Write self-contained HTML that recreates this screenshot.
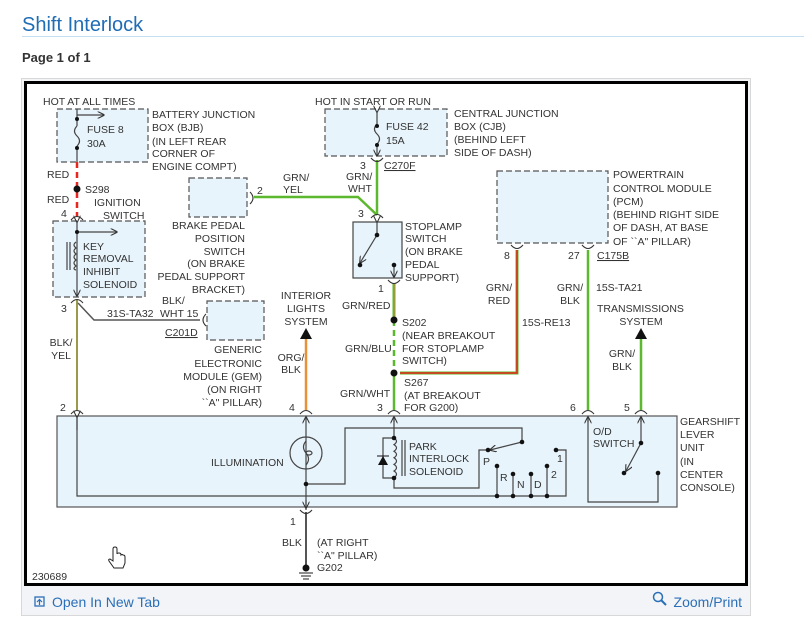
<!DOCTYPE html>
<html><head><meta charset="utf-8"><style>
html,body{margin:0;padding:0;background:#fff;}
body{width:804px;height:636px;overflow:hidden;position:relative;font-family:"Liberation Sans",sans-serif;}
svg{position:absolute;left:0;top:0;}
</style></head><body>
<svg width="804" height="636" viewBox="0 0 804 636" font-family="Liberation Sans, sans-serif">
<defs>
<marker id="ar" viewBox="0 0 10 10" refX="9" refY="5" markerWidth="6" markerHeight="6" orient="auto"><path d="M0,0 L10,5 L0,10" fill="none" stroke="#333" stroke-width="1.5"/></marker>
</defs>
<!-- header -->
<text x="22" y="31" font-size="20" fill="#1f6db5">Shift Interlock</text>
<line x1="22" y1="36.5" x2="804" y2="36.5" stroke="#c5dff2" stroke-width="1"/>
<text x="22" y="62" font-size="13" font-weight="bold" fill="#333">Page 1 of 1</text>
<rect x="21.5" y="78.5" width="729" height="537" fill="#f3f4f6" stroke="#d8d8d8"/>
<rect x="25.5" y="82.5" width="721" height="502" fill="#fff" stroke="#000" stroke-width="3"/>
<!-- bottom bar -->
<rect x="22" y="587" width="728" height="28" fill="#f2f4f7"/>
<rect x="35" y="597" width="9" height="9" fill="none" stroke="#2a6fb8" stroke-width="1.3"/>
<path d="M39.5 605 V600 M37 602 L39.5 599.5 L42 602" stroke="#2a6fb8" fill="none" stroke-width="1.2"/>
<text x="52" y="607" font-size="14" fill="#2a6fb8">Open In New Tab</text>
<circle cx="658" cy="597" r="4.5" fill="none" stroke="#2a6fb8" stroke-width="1.5"/>
<line x1="661" y1="600" x2="666" y2="605" stroke="#2a6fb8" stroke-width="2"/>
<text x="742" y="607" font-size="14" fill="#2a6fb8" text-anchor="end">Zoom/Print</text>

<g font-size="10.5" fill="#333">
<!-- boxes -->
<g fill="#e8f4fc" stroke="#555" stroke-width="1.2" stroke-dasharray="6,3">
<rect x="57" y="109" width="91" height="53"/>
<rect x="53" y="221" width="92" height="76"/>
<rect x="189" y="178" width="58" height="39"/>
<rect x="207" y="301" width="57" height="39"/>
<rect x="325" y="109" width="122" height="47"/>
<rect x="497" y="171" width="111" height="72"/>
</g>
<rect x="353" y="222" width="49" height="56" fill="#e8f4fc" stroke="#444" stroke-width="1.2"/>
<rect x="57" y="416" width="620" height="91" fill="#e8f4fc" stroke="#555" stroke-width="1.2"/>

<!-- wires -->
<g fill="none" stroke-width="2.5">
<line x1="77" y1="162" x2="77" y2="217" stroke="#e8261f" stroke-dasharray="6,4"/>
<line x1="77" y1="300" x2="77" y2="410" stroke="#9a9a4a" stroke-width="2"/>
<polyline points="78,303 94,320 200,320" stroke="#555" stroke-width="1.5"/>
<polyline points="254,197 358,197 377,215" stroke="#5cb82e"/>
<line x1="377" y1="160" x2="377" y2="215" stroke="#5cb82e"/>
<line x1="394" y1="283" x2="394" y2="320" stroke="#5cb82e" stroke-width="3"/>
<line x1="394" y1="283" x2="394" y2="320" stroke="#d08040" stroke-width="1"/>
<line x1="394" y1="320" x2="394" y2="373" stroke="#5cb82e" stroke-dasharray="6,4"/>
<line x1="394" y1="373" x2="394" y2="410" stroke="#5cb82e"/>
<polyline points="400,373 517,373 517,250" stroke="#5cb82e" stroke-width="3"/>
<polyline points="400,373 517,373 517,250" stroke="#e8261f" stroke-width="1.5"/>
<line x1="588" y1="250" x2="588" y2="410" stroke="#5cb82e"/>
<line x1="641" y1="338" x2="641" y2="410" stroke="#5cb82e"/>
<line x1="306" y1="338" x2="306" y2="410" stroke="#e8913a"/>
<line x1="306" y1="512" x2="306" y2="568" stroke="#555" stroke-width="2"/>
</g>
<!-- arrows up triangles -->
<path d="M306 328 L300 339 L312 339Z M641 328 L635 339 L647 339Z" fill="#111"/>

<!-- connector caps -->
<g fill="none" stroke="#333" stroke-width="1.1">
<path d="M71 220 Q77 213 83 220 M71 303 Q77 296 83 303 M71 414 Q77 407 83 414 M300 414 Q306 407 312 414 M388 414 Q394 407 400 414 M582 414 Q588 407 594 414 M635 414 Q641 407 647 414 M371 218 Q377 211 383 218 M388 280 Q394 287 400 280 M371 158 Q377 165 383 158 M511 245 Q517 252 523 245 M582 245 Q588 252 594 245 M300 510 Q306 517 312 510"/>
<path d="M250 192 Q256 198 250 204 M206 314 Q200 320 206 326"/>
</g>

<!-- BJB internals -->
<g stroke="#444" stroke-width="1.2" fill="none">
<line x1="77" y1="109" x2="77" y2="126"/>
<path d="M77 126 Q72 131 77 136 Q82 141 77 146"/>
<line x1="77" y1="146" x2="77" y2="162"/>
<line x1="77" y1="115" x2="104" y2="115" marker-end="url(#ar)"/>
<line x1="377" y1="112" x2="377" y2="124" marker-start="url(#ar)"/>
<path d="M377 124 Q372 129 377 134 Q382 139 377 144"/>
<line x1="377" y1="144" x2="377" y2="156" marker-end="url(#ar)"/>
<!-- ignition -->
<line x1="77" y1="222" x2="77" y2="296" marker-start="url(#ar)" marker-end="url(#ar)"/>
<line x1="77" y1="232" x2="117" y2="232" marker-end="url(#ar)"/>
<path d="M76 242 q-4 3 0 6 q-4 3 0 6 q-4 3 0 6 q-4 3 0 6 q-4 3 0 4"/>
<line x1="67" y1="242" x2="67" y2="270"/><line x1="70" y1="242" x2="70" y2="270"/>
<!-- stoplamp -->
<line x1="377" y1="222" x2="377" y2="235" marker-start="url(#ar)"/>
<line x1="377" y1="235" x2="360" y2="263" marker-end="url(#ar)"/>
<line x1="394" y1="265" x2="394" y2="277" marker-end="url(#ar)"/>
<!-- gearshift internals -->
<polyline points="77,418 77,496 566,496 566,450 556,450"/>
<line x1="77" y1="417" x2="77" y2="430" marker-start="url(#ar)"/>
<line x1="306" y1="417" x2="306" y2="510" />
<line x1="306" y1="420" x2="306" y2="417" marker-end="url(#ar)"/>
<line x1="306" y1="500" x2="306" y2="508" marker-end="url(#ar)"/>
<circle cx="306" cy="453" r="16"/>
<path d="M306 441 q-5 6 0 12 q5 6 0 12"/>
<ellipse cx="309" cy="453" rx="3" ry="2"/>
<polyline points="306,484 345,484 345,428 522,428 522,442"/>
<line x1="522" y1="442" x2="490" y2="450" marker-end="url(#ar)"/>
<line x1="394" y1="418" x2="394" y2="438"/>
<line x1="394" y1="422" x2="394" y2="417" marker-end="url(#ar)"/>
<path d="M394 438 q5 3.3 0 6.6 q5 3.3 0 6.6 q5 3.3 0 6.6 q5 3.3 0 6.6 q5 3.3 0 6.6 q5 3.3 0 6.6"/>
<line x1="402" y1="440" x2="402" y2="476"/><line x1="405" y1="440" x2="405" y2="476"/>
<polyline points="394,438 383,438 383,478 394,478"/>
<polyline points="394,478 394,488 479,488 479,450 488,450"/>
<line x1="497" y1="466" x2="497" y2="496"/><line x1="513" y1="474" x2="513" y2="496"/>
<line x1="531" y1="474" x2="531" y2="496"/><line x1="547" y1="466" x2="547" y2="496"/>
<polyline points="588,418 588,502 658,502 658,473"/>
<line x1="588" y1="422" x2="588" y2="417" marker-end="url(#ar)"/>
<line x1="641" y1="417" x2="641" y2="443"/>
<line x1="641" y1="422" x2="641" y2="417" marker-end="url(#ar)"/>
<line x1="641" y1="443" x2="626" y2="471" marker-end="url(#ar)"/>
</g>
<path d="M378 465 L388 465 L383 456Z" fill="#111"/><line x1="377" y1="456" x2="389" y2="456" stroke="#111"/>
<!-- ground -->
<g stroke="#444" stroke-width="1.2"><line x1="299" y1="573" x2="313" y2="573"/><line x1="301" y1="576" x2="311" y2="576"/><line x1="303" y1="579" x2="309" y2="579"/></g>
<!-- dots -->
<g fill="#111">
<circle cx="77" cy="189" r="3.5"/><circle cx="394" cy="320" r="3.5"/><circle cx="394" cy="373" r="3.5"/>
<circle cx="306" cy="568" r="3.5"/>
<circle cx="77" cy="119" r="2"/><circle cx="77" cy="148" r="2"/><circle cx="377" cy="126" r="2"/><circle cx="377" cy="145" r="2"/>
<circle cx="77" cy="232" r="2"/><circle cx="377" cy="235" r="2.3"/><circle cx="360" cy="265" r="2.3"/><circle cx="394" cy="265" r="2.3"/>
<circle cx="306" cy="484" r="2.3"/><circle cx="522" cy="442" r="2.3"/><circle cx="488" cy="450" r="2.3"/>
<circle cx="394" cy="438" r="2.3"/><circle cx="394" cy="478" r="2.3"/>
<circle cx="497" cy="466" r="2.3"/><circle cx="513" cy="474" r="2.3"/><circle cx="531" cy="474" r="2.3"/><circle cx="547" cy="466" r="2.3"/><circle cx="556" cy="450" r="2.3"/>
<circle cx="497" cy="496" r="2.3"/><circle cx="513" cy="496" r="2.3"/><circle cx="531" cy="496" r="2.3"/><circle cx="547" cy="496" r="2.3"/>
<circle cx="641" cy="443" r="2.3"/><circle cx="624" cy="473" r="2.3"/><circle cx="658" cy="473" r="2.3"/>
</g>

<!-- texts -->
<text x="43" y="105">HOT AT ALL TIMES</text>
<text x="87" y="133">FUSE 8</text><text x="87" y="147">30A</text>
<text x="152" y="118">BATTERY JUNCTION</text><text x="152" y="131">BOX (BJB)</text><text x="152" y="145">(IN LEFT REAR</text><text x="152" y="157">CORNER OF</text><text x="152" y="170">ENGINE COMPT)</text>
<text x="47" y="178">RED</text><text x="85" y="193">S298</text><text x="47" y="203">RED</text>
<text x="94" y="206">IGNITION</text><text x="103" y="219">SWITCH</text>
<text x="61" y="217">4</text>
<text x="83" y="250">KEY</text><text x="83" y="262">REMOVAL</text><text x="83" y="275">INHIBIT</text><text x="83" y="288">SOLENOID</text>
<text x="61" y="312">3</text>
<text x="107" y="317">31S-TA32</text><text x="162" y="304">BLK/</text><text x="160" y="317">WHT 15</text>
<text x="165" y="336" text-decoration="underline">C201D</text>
<text x="61" y="346" text-anchor="middle">BLK/</text><text x="61" y="359" text-anchor="middle">YEL</text>
<g text-anchor="end"><text x="262" y="353">GENERIC</text><text x="262" y="367">ELECTRONIC</text><text x="262" y="380">MODULE (GEM)</text><text x="262" y="393">(ON RIGHT</text><text x="262" y="406">``A" PILLAR)</text>
<text x="245" y="229">BRAKE PEDAL</text><text x="245" y="242">POSITION</text><text x="245" y="255">SWITCH</text><text x="245" y="267">(ON BRAKE</text><text x="245" y="280">PEDAL SUPPORT</text><text x="245" y="293">BRACKET)</text></g>
<text x="257" y="194">2</text>
<text x="283" y="181">GRN/</text><text x="283" y="193">YEL</text>
<text x="315" y="105">HOT IN START OR RUN</text>
<text x="386" y="130">FUSE 42</text><text x="386" y="144">15A</text>
<text x="454" y="117">CENTRAL JUNCTION</text><text x="454" y="130">BOX (CJB)</text><text x="454" y="143">(BEHIND LEFT</text><text x="454" y="156">SIDE OF DASH)</text>
<text x="360" y="169">3</text><text x="384" y="169" text-decoration="underline">C270F</text>
<text x="346" y="180">GRN/</text><text x="348" y="192">WHT</text>
<text x="358" y="217">3</text>
<text x="405" y="230">STOPLAMP</text><text x="405" y="242">SWITCH</text><text x="405" y="255">(ON BRAKE</text><text x="405" y="268">PEDAL</text><text x="405" y="281">SUPPORT)</text>
<text x="378" y="292">1</text>
<text x="342" y="309">GRN/RED</text>
<text x="402" y="326">S202</text><text x="402" y="339">(NEAR BREAKOUT</text><text x="402" y="352">FOR STOPLAMP</text><text x="402" y="364">SWITCH)</text>
<text x="345" y="352">GRN/BLU</text>
<text x="404" y="386">S267</text><text x="404" y="399">(AT BREAKOUT</text><text x="404" y="411">FOR G200)</text>
<text x="340" y="397">GRN/WHT</text>
<text x="613" y="178">POWERTRAIN</text><text x="613" y="192">CONTROL MODULE</text><text x="613" y="205">(PCM)</text><text x="613" y="218">(BEHIND RIGHT SIDE</text><text x="613" y="231">OF DASH, AT BASE</text><text x="613" y="245">OF ``A" PILLAR)</text>
<text x="504" y="259">8</text><text x="568" y="259">27</text><text x="597" y="259" text-decoration="underline">C175B</text>
<g text-anchor="middle"><text x="499" y="291">GRN/</text><text x="499" y="304">RED</text>
<text x="570" y="291">GRN/</text><text x="570" y="304">BLK</text>
<text x="622" y="357">GRN/</text><text x="622" y="370">BLK</text>
<text x="291" y="361">ORG/</text><text x="291" y="373">BLK</text>
<text x="306" y="299">INTERIOR</text><text x="306" y="312">LIGHTS</text><text x="306" y="325">SYSTEM</text>
<text x="641" y="325">SYSTEM</text></g>
<text x="596" y="291">15S-TA21</text><text x="522" y="326">15S-RE13</text>
<text x="597" y="312">TRANSMISSIONS</text>
<text x="60" y="411">2</text><text x="289" y="411">4</text><text x="377" y="411">3</text><text x="570" y="411">6</text><text x="624" y="411">5</text>
<text x="680" y="425">GEARSHIFT</text><text x="680" y="438">LEVER</text><text x="680" y="451">UNIT</text><text x="680" y="465">(IN</text><text x="680" y="478">CENTER</text><text x="680" y="491">CONSOLE)</text>
<text x="593" y="435">O/D</text><text x="593" y="447">SWITCH</text>
<text x="211" y="466">ILLUMINATION</text>
<text x="409" y="450">PARK</text><text x="409" y="462">INTERLOCK</text><text x="409" y="475">SOLENOID</text>
<text x="483" y="465">P</text><text x="500" y="481">R</text><text x="517" y="488">N</text><text x="534" y="488">D</text><text x="551" y="478">2</text><text x="557" y="462">1</text>
<text x="290" y="525">1</text><text x="282" y="546">BLK</text>
<text x="317" y="546">(AT RIGHT</text><text x="317" y="559">``A" PILLAR)</text><text x="317" y="571">G202</text>
<text x="32" y="580">230689</text>
</g>
<!-- hand cursor -->
<path d="M113 549 v12 l-3 -2 q-2 0 -1 2 l5 7 h9 l2 -5 v-6 q0 -2 -2 -2 q-1 -1 -2 0 q0 -2 -2 -2 q-2 0 -2 1 v-5 q0 -2 -2 -2 q-2 0 -2 2z" fill="#fff" stroke="#222" stroke-width="1"/>
</svg>
</body></html>
